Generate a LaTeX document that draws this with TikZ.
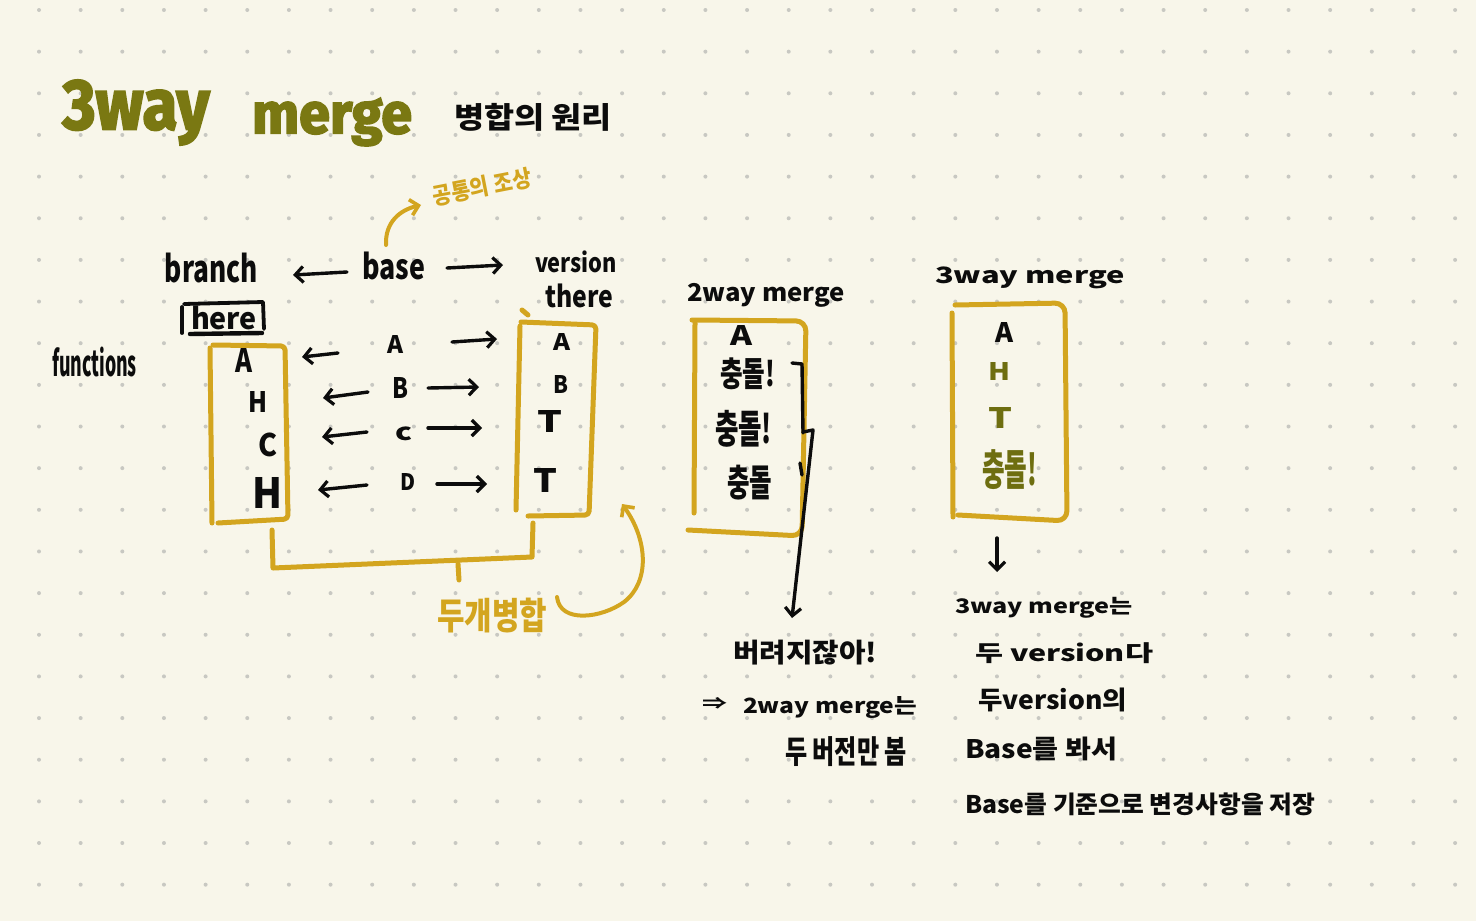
\documentclass[tikz,border=0pt]{standalone}
\usepackage{graphicx}
\usepackage{fontspec}
\setmainfont{Noto Sans CJK KR}
\newfontfamily\titlefont[FakeBold=3]{Fira Sans}
\usetikzlibrary{arrows.meta}
\newdimen\pxu \pxu=0.5pt
\newcommand\fitbox[3]{\resizebox*{#1\pxu}{#2\pxu}{#3}}
\definecolor{bgc}{RGB}{248,246,234}
\definecolor{dotc}{RGB}{200,200,194}
\definecolor{gold}{RGB}{211,165,31}
\definecolor{olive}{RGB}{110,110,16}
\definecolor{titleol}{RGB}{122,120,18}
\definecolor{ink}{RGB}{12,12,12}
\tikzset{
  txt/.style={inner sep=0pt, outer sep=0pt, anchor=center, text=ink, font=\bfseries},
  goldtxt/.style={txt, text=gold},
  olivetxt/.style={txt, text=olive},
  goldline/.style={draw=gold, line width=2.5pt, line cap=round, line join=round},
  blk/.style={draw=ink, line width=1.7pt, line cap=round, line join=round},
  blkarr/.style={blk, -{Straight Barb[length=4pt,width=8pt,line width=1.6pt]}},
  goldarr/.style={goldline, line width=2pt, -{Straight Barb[length=4pt,width=8pt,line width=1.8pt]}},
}
\begin{document}
\begin{tikzpicture}[x=0.5pt,y=-0.5pt]
\useasboundingbox (0,0) rectangle (1476,921);
\fill[bgc] (0,0) rectangle (1476,921);
\foreach \i in {0,...,34}{\foreach \j in {0,...,21}{\fill[dotc] ({39+41.65*\i},{10+41.65*\j}) circle (1pt);}}

% title
\node[txt, text=titleol] (t3way) at (136,112.5) {\fitbox{147}{65}{\titlefont\bfseries 3way}};
\node[txt, text=titleol] (tmerge) at (332,122) {\fitbox{160}{48}{\titlefont\bfseries merge}};
\node[txt] (principle) at (533,117) {\fitbox{158}{28}{병합의 원리}};

% ancestor note
\node[goldtxt, rotate=11] (ancestor) at (482,187) {\fitbox{100}{22}{공통의 조상}};

% header row
\node[txt] (branch) at (211.5,268) {\fitbox{93}{30}{branch}};
\node[txt] (base) at (393.5,266) {\fitbox{63}{28}{base}};
\node[txt] (version) at (576,262) {\fitbox{82}{22}{version}};
\node[txt] (there) at (579,296) {\fitbox{68}{24}{there}};
\node[txt] (here) at (224,318) {\fitbox{66}{24}{here}};
\node[txt] (functions) at (94.5,362) {\fitbox{85}{30}{functions}};

\coordinate (curlS) at (386,245);
\coordinate (curlE) at (421,205);
\draw[goldarr] (curlS) .. controls (385,222) and (400,210) .. (curlE);

\coordinate (bbL1) at (347,272); \coordinate (bbL2) at (293,275);
\coordinate (bbR1) at (447,268); \coordinate (bbR2) at (503,265);
\draw[blkarr] (bbL1) -- (bbL2);
\draw[blkarr] (bbR1) -- (bbR2);

% here box
\draw[blk, line width=1.9pt] (182,333) -- (182,307);
\draw[blk, line width=1.9pt] (184,304) -- (263,302) -- (264,329);
\draw[blk, line width=2.2pt] (190,334) -- (262,333);

% left box (branch)
\draw[goldline] (210,348) -- (212,523);
\draw[goldline, rounded corners=2pt] (213,345) -- (285,346) -- (288,519) -- (218,523);
\node[txt] (lA) at (243.5,360) {\fitbox{17}{24}{A}};
\node[txt] (lH) at (257.5,402) {\fitbox{19}{21}{H}};
\node[txt] (lC) at (267.5,445) {\fitbox{19}{24}{C}};
\node[txt] (lH2) at (267,492.5) {\fitbox{30}{31}{H}};

% base column
\node[txt] (mA) at (395,344) {\fitbox{16}{18}{A}};
\node[txt] (mB) at (400,387.5) {\fitbox{16}{21}{B}};
\node[txt] (mC) at (403.5,433.5) {\fitbox{17}{14}{c}};
\node[txt] (mD) at (407.5,481.5) {\fitbox{15}{17}{D}};

% right box (version)
\draw[goldline] (522,310) -- (528,315);
\draw[goldline] (520,326) -- (516,510);
\draw[goldline, rounded corners=2pt] (521,322) -- (596,325) -- (589,515) -- (528,516);
\node[txt] (rA) at (561.5,341.5) {\fitbox{17}{17}{A}};
\node[txt] (rB) at (560.5,384) {\fitbox{15}{18}{B}};
\node[txt] (rT) at (549.5,421) {\fitbox{25}{22}{T}};
\node[txt] (rT2) at (545,480) {\fitbox{24}{24}{T}};

% arrows of rows
\coordinate (aL1s) at (338,353); \coordinate (aL1e) at (302,357);
\coordinate (aL2s) at (368,392); \coordinate (aL2e) at (323,398);
\coordinate (aL3s) at (367,432); \coordinate (aL3e) at (322,437);
\coordinate (aL4s) at (367,485); \coordinate (aL4e) at (318,490);
\coordinate (aR1s) at (452,342); \coordinate (aR1e) at (497,339);
\coordinate (aR2s) at (428,388); \coordinate (aR2e) at (479,387);
\coordinate (aR3s) at (428,428); \coordinate (aR3e) at (482,428);
\coordinate (aR4s) at (437,484); \coordinate (aR4e) at (487,484);
\foreach \k in {1,2,3,4}{\draw[blkarr] (aL\k s) -- (aL\k e); \draw[blkarr] (aR\k s) -- (aR\k e);}

% bracket joining the two
\draw[goldline] (272,530) -- (273,568) -- (532,557) -- (533,523);
\coordinate (stemT) at (458,564);
\coordinate (stemB) at (459,580);
\draw[goldline] (stemT) -- (stemB);
\node[goldtxt] (twomerge) at (492,615.5) {\fitbox{110}{35}{두개병합}};
\coordinate (swS) at (557,597);
\coordinate (swE) at (622,504);
\draw[goldarr] (swS) .. controls (560,624) and (602,618) .. (624,602) .. controls (650,582) and (648,540) .. (swE);

% 2way merge
\node[txt] (twoway) at (766,295) {\fitbox{158}{24}{2way merge}};
\draw[goldline] (694,513) -- (695,323);
\draw[goldline, rounded corners=5pt] (692,320) -- (806,321) -- (802,536) -- (688,530);
\node[txt] (wA) at (741,335) {\fitbox{22}{20}{A}};
\node[txt] (wc1) at (747.5,374) {\fitbox{55}{32}{충돌!}};
\node[txt] (wc2) at (743.5,428.5) {\fitbox{57}{37}{충돌!}};
\node[txt] (wc3) at (749.5,482.5) {\fitbox{45}{35}{충돌}};
\draw[blk] (792,363) -- (802,364) -- (803,433);
\draw[blk] (800,463) -- (802,475);
\coordinate (lostS) at (803,432);
\coordinate (lostE) at (792,618);
\draw[blkarr] (lostS) -- (813,430) -- (lostE);
\node[txt] (lost) at (805,652.5) {\fitbox{144}{25}{버려지잖아!}};
\node[txt] (imp) at (714.5,703) {\fitbox{25}{12}{⇒}};
\node[txt] (twonote) at (830,707.5) {\fitbox{174}{22}{2way merge는}};
\node[txt] (twonote2) at (846,752) {\fitbox{122}{30}{두 버전만 봄}};

% 3way merge
\node[txt] (threeway) at (1030,278) {\fitbox{190}{22}{3way merge}};
\draw[goldline] (952,313) -- (953,517);
\draw[goldline, rounded corners=5pt] (955,305) -- (1065,303) -- (1067,521) -- (958,515);
\node[txt] (tA) at (1004,332) {\fitbox{18}{20}{A}};
\node[olivetxt] (tH) at (999,371) {\fitbox{22}{18}{H}};
\node[olivetxt] (tT) at (1000,417.5) {\fitbox{24}{21}{T}};
\node[olivetxt] (tc) at (1009.5,470) {\fitbox{55}{40}{충돌!}};
\coordinate (dS) at (997,538);
\coordinate (dE) at (997,572);
\draw[blkarr] (dS) -- (dE);
\node[txt] (n1) at (1044,608) {\fitbox{178}{21}{3way merge는}};
\node[txt] (n2) at (1064,653) {\fitbox{178}{21}{두 version다}};
\node[txt] (n3) at (1052.5,700) {\fitbox{149}{24}{두version의}};
\node[txt] (n4) at (1041,748.5) {\fitbox{152}{24}{Base를 봐서}};
\node[txt] (n5) at (1140,804) {\fitbox{350}{23}{Base를 기준으로 변경사항을 저장}};
\end{tikzpicture}
\end{document}
